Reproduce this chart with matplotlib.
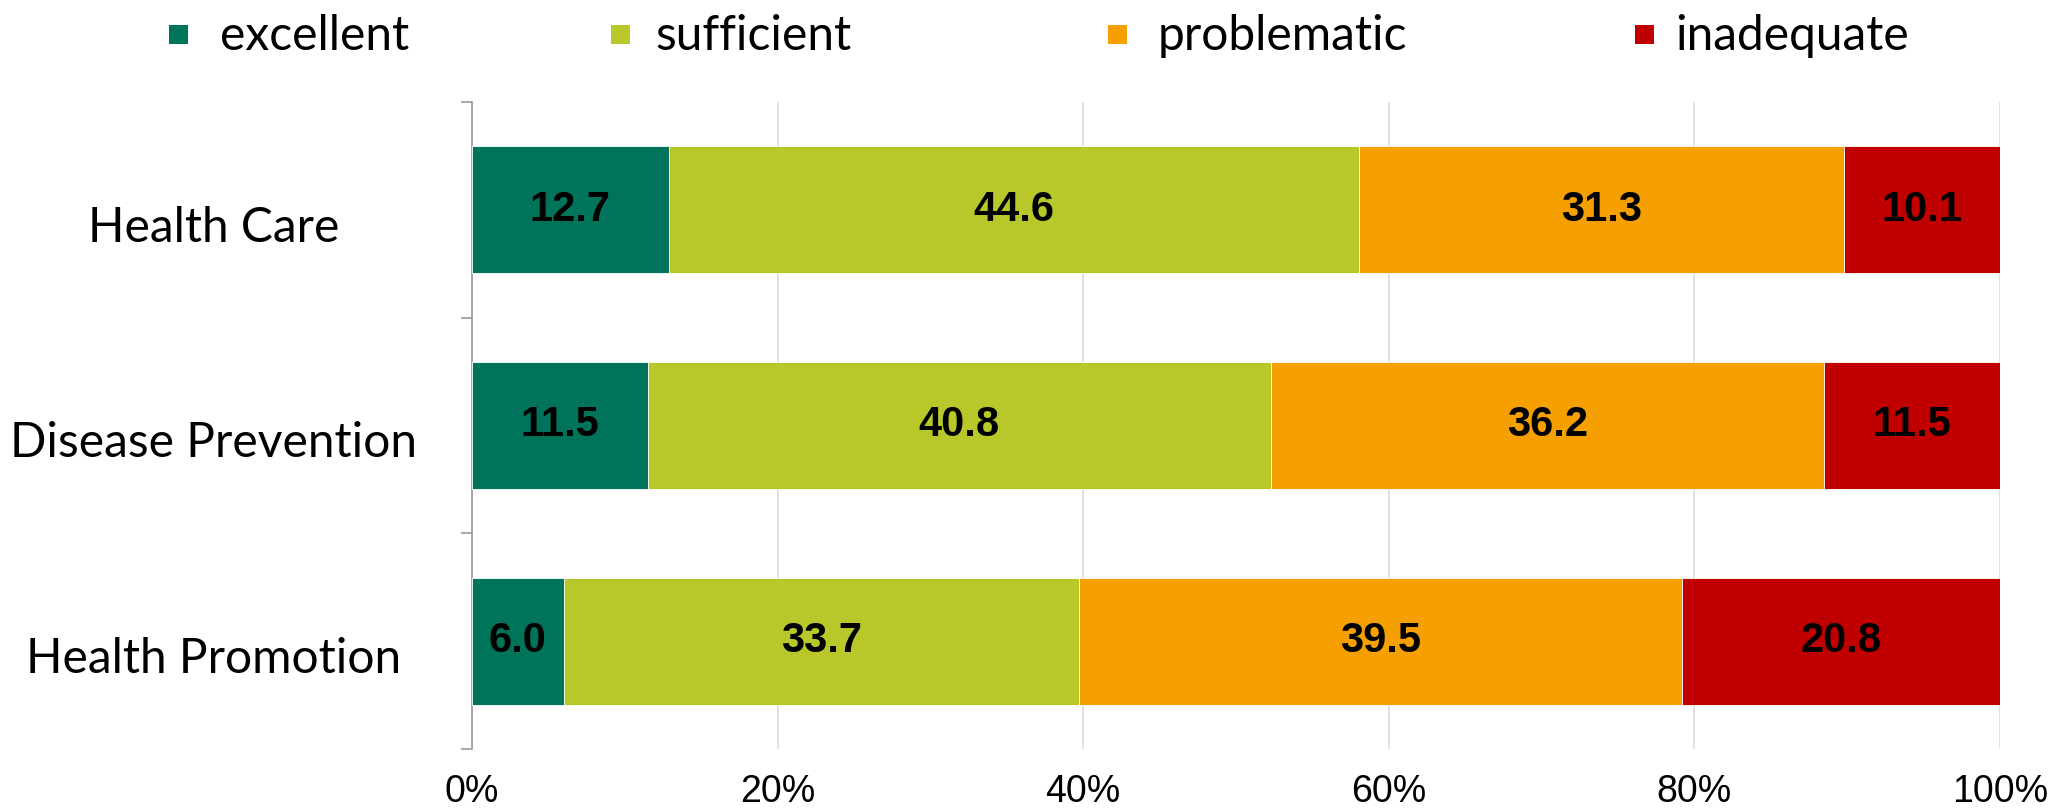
import matplotlib.pyplot as plt
from matplotlib.patches import Rectangle
from matplotlib.transforms import blended_transform_factory

# Shares per area (percent)
categories = ['Health Care', 'Disease Prevention', 'Health Promotion']
ratings = ['excellent', 'sufficient', 'problematic', 'inadequate']
excellent = [12.7, 11.5, 6.0]
sufficient = [44.6, 40.8, 33.7]
problematic = [31.3, 36.2, 39.5]
inadequate = [10.1, 11.5, 20.8]
colors = ['#00745A', '#B8C82A', '#F5A000', '#C00000']
xticks = [0, 20, 40, 60, 80, 100]


def do_plot():
    fig = plt.figure(figsize=(20.54, 8.09), dpi=100)
    ax = fig.add_axes([0.2298, 0.0742, 0.7439, 0.7998])

    series = [excellent, sufficient, problematic, inadequate]
    totals = [sum(v) for v in zip(*series)]
    ypos = list(range(len(categories)))
    left = [0.0] * len(categories)
    for vals, col in zip(series, colors):
        # bars are scaled to 100% per row
        widths = [v / t * 100 for v, t in zip(vals, totals)]
        ax.barh(ypos, widths, left=left, height=0.59, color=col,
                edgecolor='white', linewidth=0.6, zorder=3)
        for y, w, l, v in zip(ypos, widths, left, vals):
            ax.text(l + w / 2, y, '%.1f' % v, ha='center', va='center',
                    fontsize=30, fontweight='bold', family='Liberation Sans',
                    color='black', zorder=4)
        left = [l + w for l, w in zip(left, widths)]

    ax.set_xlim(0, 100)
    ax.set_ylim(len(categories) - 0.5, -0.5)
    ax.set_xticks(xticks)
    ax.set_xticklabels(['%d%%' % t for t in xticks], family='Liberation Sans',
                       fontsize=27)
    ax.tick_params(axis='x', length=0, pad=18)
    ax.set_yticks([i - 0.5 for i in range(len(categories) + 1)])
    ax.set_yticklabels([])
    ax.tick_params(axis='y', length=8, color='#999999', width=1.2)
    ax.grid(axis='x', color='#DDDDDD', linewidth=1.2, zorder=0)
    for s in ['top', 'right', 'bottom']:
        ax.spines[s].set_visible(False)
    ax.spines['left'].set_color('#999999')
    ax.spines['left'].set_linewidth(1.2)

    # category names sit a little below the bar centre
    trans = blended_transform_factory(fig.transFigure, ax.transData)
    for y, name in zip(ypos, categories):
        ax.text(0.104, y + 0.148, name, transform=trans, ha='center',
                va='baseline', fontsize=34.5, family='Lato')

    # legend drawn by hand to match the uneven spacing
    marker_x = [0.0823, 0.2975, 0.5394, 0.7960]
    text_x = [0.1071, 0.3189, 0.5638, 0.8155]
    for mx, tx, name, col in zip(marker_x, text_x, ratings, colors):
        fig.patches.append(Rectangle((mx, 0.9456), 0.00925, 0.0235,
                                     transform=fig.transFigure,
                                     facecolor=col, edgecolor='none'))
        fig.text(tx, 0.938, name, ha='left', va='baseline', fontsize=34.5,
                 family='Lato')

    fig.savefig('out.png', dpi=100)


if __name__ == '__main__':
    do_plot()
